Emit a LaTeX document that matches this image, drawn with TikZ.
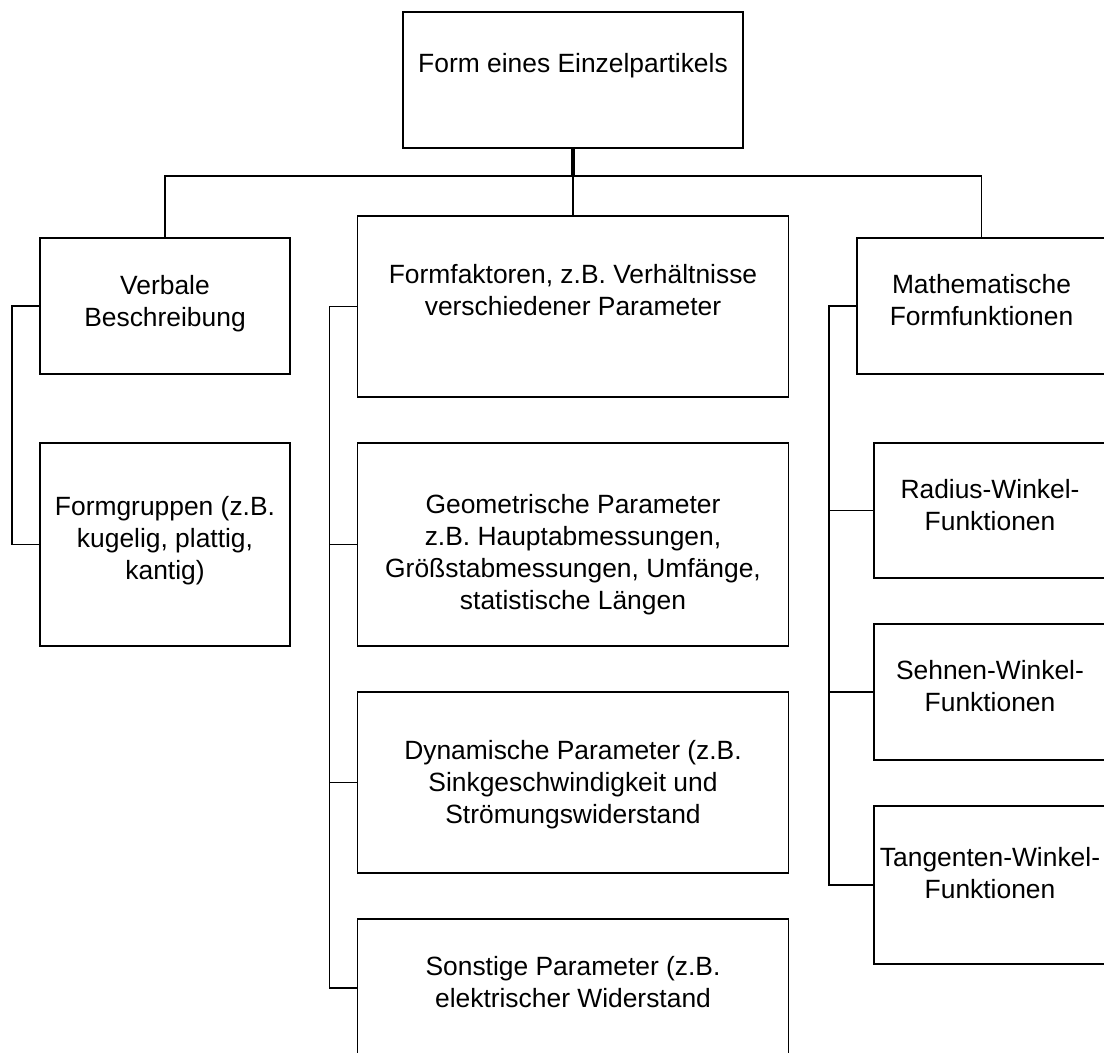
\documentclass[tikz,border=0pt]{standalone}
\usepackage{fontspec}
\setmainfont{Liberation Sans}
\usetikzlibrary{calc}

\tikzset{
  box/.style={draw, line width=1.8pt, rectangle, inner sep=0pt, outer sep=0pt, anchor=north west},
  boxtext/.style={font=\fontsize{26.4}{32}\selectfont, align=center, inner sep=0pt,
    execute at begin node=\strut, execute at end node=\strut},
  wire/.style={line width=1.6pt},
  heavywire/.style={line width=3.3pt},
}

\begin{document}
\begin{tikzpicture}[x=1pt, y=-1pt]
  \useasboundingbox (0,0) rectangle (1104,1053);
  \clip (0,0) rectangle (1104,1053);

  % root
  \node[box, minimum width=340pt, minimum height=136pt] (root) at (403,12) {};
  \node[boxtext] (rootT) at (573,65.6) {Form eines Einzelpartikels};

  % left column
  \node[box, minimum width=250pt, minimum height=136pt] (verb) at (40,238) {};
  \node[boxtext] (verbT) at (165,305.6) {Verbale\\Beschreibung};
  \node[box, minimum width=250pt, minimum height=203pt] (fg) at (40,443) {};
  \node[boxtext] (fgT) at (165,543) {Formgruppen (z.B.\\kugelig, plattig,\\kantig)};

  % middle column
  \node[box, minimum width=431pt, minimum height=181pt] (ff) at (357.5,216) {};
  \node[boxtext] (ffT) at (573,294.6) {Formfaktoren, z.B. Verhältnisse\\verschiedener Parameter};
  \node[box, minimum width=431pt, minimum height=203pt] (geo) at (357.5,443) {};
  \node[boxtext] (geoT) at (573,556.6) {Geometrische Parameter\\z.B. Hauptabmessungen,\\Größstabmessungen, Umfänge,\\statistische Längen};
  \node[box, minimum width=431pt, minimum height=181pt] (dyn) at (357.5,692) {};
  \node[boxtext] (dynT) at (573,786.6) {Dynamische Parameter (z.B.\\Sinkgeschwindigkeit und\\Strömungswiderstand};
  \node[box, minimum width=431pt, minimum height=138pt] (son) at (357.5,919) {};
  \node[boxtext] (sonT) at (573,986.6) {Sonstige Parameter (z.B.\\elektrischer Widerstand};

  % right column
  \node[box, minimum width=249pt, minimum height=136pt] (mf) at (857,238) {};
  \node[boxtext] (mfT) at (981.5,305) {Mathematische\\Formfunktionen};
  \node[box, minimum width=232pt, minimum height=135pt] (rw) at (874,443) {};
  \node[boxtext] (rwT) at (990,509.6) {Radius-Winkel-\\Funktionen};
  \node[box, minimum width=232pt, minimum height=136pt] (sw) at (874,624) {};
  \node[boxtext] (swT) at (990,691) {Sehnen-Winkel-\\Funktionen};
  \node[box, minimum width=232pt, minimum height=158pt] (tw) at (874,806) {};
  \node[boxtext] (twT) at (990,877.6) {Tangenten-Winkel-\\Funktionen};

  % top-level branching
  \coordinate (bus) at ($(root.south)+(0,28)$);
  \draw[heavywire] (root.south) -- (bus);
  \draw[wire] (verb.north) |- (bus) -| (mf.north);
  \draw[wire] (bus) -- (ff.north);

  % left column connector
  \draw[wire] (verb.west) -- ++(-28,0) |- (fg.west);

  % middle column connectors
  \draw[wire] (ff.west) -- ++(-28,0) |- (son.west);
  \draw[wire] (ff.west) ++(-28,0) |- (geo.west);
  \draw[wire] (ff.west) ++(-28,0) |- (dyn.west);

  % right column connectors
  \draw[wire] (mf.west) -- ++(-28,0) |- (tw.west);
  \draw[wire] (mf.west) ++(-28,0) |- (rw.west);
  \draw[wire] (mf.west) ++(-28,0) |- (sw.west);
\end{tikzpicture}
\end{document}
